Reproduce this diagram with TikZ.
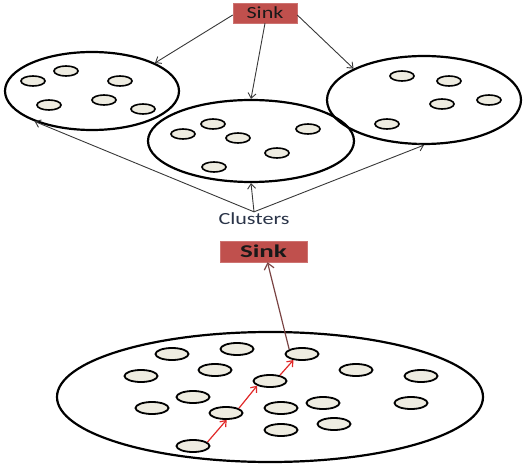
\documentclass[tikz,border=0pt]{standalone}
\usepackage{fontspec}
\setmainfont{Carlito}
\usetikzlibrary{shapes.geometric,arrows.meta}
\definecolor{sinkred}{HTML}{C0504D}
\definecolor{nodefill}{HTML}{EEECE1}
\definecolor{linegray}{HTML}{383838}
\definecolor{chainred}{HTML}{E02828}
\definecolor{sinkarrow}{HTML}{7B4545}
\definecolor{labelblue}{HTML}{2A3448}
\tikzset{
  sinkbox/.style={fill=sinkred, draw=sinkred!80!white, line width=0.5pt, inner sep=0pt, text=black!90},
  cluster/.style={ellipse, draw=black, line width=2.2pt, inner sep=0pt},
  sensor/.style={ellipse, draw=black, line width=1.6pt, fill=nodefill, minimum width=24pt, minimum height=10pt, inner sep=0pt},
  bigsensor/.style={ellipse, draw=black, line width=1.8pt, fill=nodefill, minimum width=33pt, minimum height=12pt, inner sep=0pt},
  thinarrow/.style={draw=linegray, line width=0.9pt, -{Straight Barb[length=5pt,width=8pt]}},
  chainarrow/.style={draw=chainred, line width=1.2pt, -{Straight Barb[length=5pt,width=8pt]}},
  sinkline/.style={draw=sinkarrow, line width=1.2pt, -{Straight Barb[length=6pt,width=10pt]}}
}
\begin{document}
\begin{tikzpicture}[x=1pt,y=-1pt]
\useasboundingbox (0,0) rectangle (527,470);
% top sink
\node[sinkbox, minimum width=64pt, minimum height=20pt] (sink) at (265,13) {\fontsize{17}{17}\selectfont\scalebox{1.3}[1]{Sink}};
% clusters
\node[cluster, minimum width=174pt, minimum height=78pt] (cl1) at (92,91) {};
\node[cluster, minimum width=206pt, minimum height=82pt] (cl2) at (251,141) {};
\node[cluster, minimum width=194pt, minimum height=88pt] (cl3) at (424,100) {};
% sensors left
\node[sensor] (a1) at (33,81) {};
\node[sensor] (a2) at (66,71) {};
\node[sensor] (a3) at (120,81) {};
\node[sensor] (a4) at (49,105) {};
\node[sensor] (a5) at (104,100) {};
\node[sensor] (a6) at (143,109) {};
% sensors middle
\node[sensor] (b1) at (183,134) {};
\node[sensor] (b2) at (213,124) {};
\node[sensor] (b3) at (238,138) {};
\node[sensor] (b4) at (308,129) {};
\node[sensor] (b5) at (277,153) {};
\node[sensor] (b6) at (214,167) {};
% sensors right
\node[sensor] (c1) at (402,76) {};
\node[sensor] (c2) at (449,81) {};
\node[sensor] (c3) at (442,104) {};
\node[sensor] (c4) at (489,100) {};
\node[sensor] (c5) at (387,124) {};
% arrows sink -> clusters
\draw[thinarrow] (sink.west) ++(0,2) coordinate (s1) (s1) -- (cl1.24);
\draw[thinarrow] (sink.south) -- (cl2.north);
\draw[thinarrow] (sink.east) ++(0,2) coordinate (s3) (s3) -- (cl3.156);
% clusters label
\node[text=labelblue, inner sep=1pt] (lbl) at (254,219) {\fontsize{17}{17}\selectfont\scalebox{1.3}[1]{Clusters}};
\draw[thinarrow] (lbl.north) -- (cl1.208);
\draw[thinarrow] (lbl.north) -- (cl2.south);
\draw[thinarrow] (lbl.north) -- (cl3.south);
% bottom sink
\node[sinkbox, minimum width=87pt, minimum height=21pt] (sinkb) at (263.5,251.5) {\fontsize{18}{18}\selectfont\scalebox{1.5}[1]{\bfseries Sink}};
% bottom cluster
\node[cluster, minimum width=426pt, minimum height=130pt] (big) at (270,397) {};
\node[bigsensor] (d1) at (172,354) {};
\node[bigsensor] (d2) at (237,349) {};
\node[bigsensor] (d3) at (302,354) {};
\node[bigsensor] (d4) at (141,376) {};
\node[bigsensor] (d5) at (215,370) {};
\node[bigsensor] (d6) at (356,370) {};
\node[bigsensor] (d7) at (421,376) {};
\node[bigsensor] (d8) at (270,381) {};
\node[bigsensor] (d9) at (193,397) {};
\node[bigsensor] (d10) at (152,408) {};
\node[bigsensor] (d11) at (226,413) {};
\node[bigsensor] (d12) at (281,408) {};
\node[bigsensor] (d13) at (323,403) {};
\node[bigsensor] (d14) at (411,403) {};
\node[bigsensor] (d15) at (281,430) {};
\node[bigsensor] (d16) at (334,424) {};
\node[bigsensor] (d17) at (193,446) {};
% chain
\draw[chainarrow] (d17.15) -- (d11.275);
\draw[chainarrow] (d11.20) -- (d8.200);
\draw[chainarrow] (d8.30) -- (d3.215);
\draw[sinkline] (d3.160) -- ([xshift=4pt]sinkb.south);
\end{tikzpicture}
\end{document}
